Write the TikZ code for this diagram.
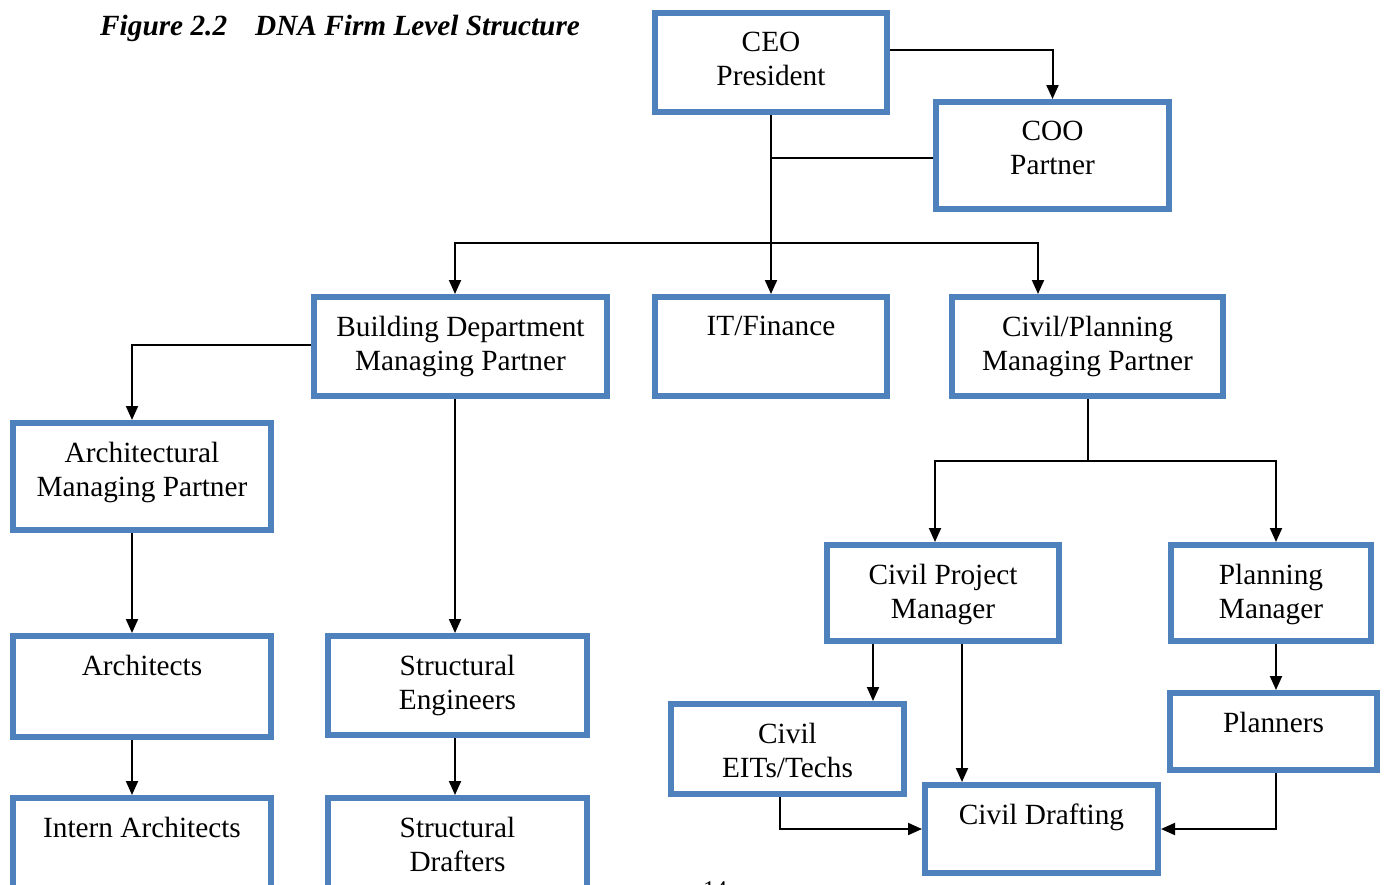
\documentclass[tikz,border=0pt]{standalone}
\usepackage{fontspec}
\setmainfont{Liberation Serif}
\usetikzlibrary{arrows.meta,calc}
\definecolor{boxblue}{HTML}{4F81BD}
\begin{document}
\begin{tikzpicture}[x=1pt,y=-1pt,
  box/.style={draw=boxblue,line width=6pt,rectangle,inner sep=0pt},
  lbl/.style={anchor=north,align=center,inner sep=0pt,font=\fontsize{29.3}{34}\selectfont},
  ln/.style={line width=2pt,black},
  arr/.style={ln,-{Triangle[length=14pt,width=12pt]}}]
\useasboundingbox (0,0) rectangle (1388,884);
% title
\node[anchor=base west,inner sep=0pt,font=\fontsize{29.3}{34}\selectfont\bfseries\itshape] (title) at (100,35) {Figure 2.2\hspace{28pt}DNA Firm Level Structure};
% boxes
\node[box,minimum width=232,minimum height=99] (ceo) at (771,62.5) {};
\node[box,minimum width=233,minimum height=107] (coo) at (1052.5,155.5) {};
\node[box,minimum width=293,minimum height=99] (bld) at (460.5,346.5) {};
\node[box,minimum width=232,minimum height=99] (itf) at (771,346.5) {};
\node[box,minimum width=271,minimum height=99] (civ) at (1087.5,346.5) {};
\node[box,minimum width=258,minimum height=107] (arch) at (142,476.5) {};
\node[box,minimum width=258,minimum height=101] (archs) at (142,686.5) {};
\node[box,minimum width=258,minimum height=104] (intern) at (142,850) {};
\node[box,minimum width=259,minimum height=99] (se) at (457.5,685.5) {};
\node[box,minimum width=259,minimum height=104] (sd) at (457.5,850) {};
\node[box,minimum width=232,minimum height=96] (cpm) at (943,593) {};
\node[box,minimum width=200,minimum height=96] (pm) at (1271,593) {};
\node[box,minimum width=233,minimum height=90] (eit) at (787.5,749) {};
\node[box,minimum width=207,minimum height=77] (pl) at (1273.5,731.5) {};
\node[box,minimum width=233,minimum height=88] (cd) at (1041.5,829) {};
% labels
\node[lbl] (ceoT) at ([yshift=-22pt]ceo.north) {CEO\\President};
\node[lbl] (cooT) at ([yshift=-22pt]coo.north) {COO\\Partner};
\node[lbl] (bldT) at ([yshift=-22pt]bld.north) {Building Department\\Managing Partner};
\node[lbl] (itfT) at ([yshift=-22pt]itf.north) {IT/Finance};
\node[lbl] (civT) at ([yshift=-22pt]civ.north) {Civil/Planning\\Managing Partner};
\node[lbl] (archT) at ([yshift=-22pt]arch.north) {Architectural\\Managing Partner};
\node[lbl] (archsT) at ([yshift=-22pt]archs.north) {Architects};
\node[lbl] (internT) at ([yshift=-22pt]intern.north) {Intern Architects};
\node[lbl] (seT) at ([yshift=-22pt]se.north) {Structural\\Engineers};
\node[lbl] (sdT) at ([yshift=-22pt]sd.north) {Structural\\Drafters};
\node[lbl] (cpmT) at ([yshift=-22pt]cpm.north) {Civil Project\\Manager};
\node[lbl] (pmT) at ([yshift=-22pt]pm.north) {Planning\\Manager};
\node[lbl] (eitT) at ([yshift=-22pt]eit.north) {Civil\\EITs/Techs};
\node[lbl] (plT) at ([yshift=-22pt]pl.north) {Planners};
\node[lbl] (cdT) at ([yshift=-22pt]cd.north) {Civil Drafting};
% page number (cut off at the page edge, as in the reference)
\node[anchor=base,inner sep=0pt,font=\fontsize{24}{28}\selectfont] (pg) at (715,897) {14};
% connectors
\coordinate (jc) at (771,158);
\coordinate (jt) at (771,243);
\coordinate (jp) at (1087.5,461);
\draw[arr] ([yshift=12.5pt]ceo.east) -| (coo.north);
\draw[ln] ([yshift=-2.5pt]coo.west) -- (jc);
\draw[arr] (ceo.south) -- (itf.north);
\draw[arr] (jt) -| ([xshift=-5.5pt]bld.north);
\draw[arr] (jt) -| ([xshift=-49.5pt]civ.north);
\draw[arr] ([yshift=1.5pt]bld.west) -| ([xshift=-10pt]arch.north);
\draw[arr] ([xshift=-5.5pt]bld.south) -- ([xshift=-2.5pt]se.north);
\draw[arr] ([xshift=-10pt]arch.south) -- ([xshift=-10pt]archs.north);
\draw[arr] ([xshift=-10pt]archs.south) -- ([xshift=-10pt]intern.north);
\draw[arr] ([xshift=-2.5pt]se.south) -- ([xshift=-2.5pt]sd.north);
\draw[ln] (civ.south) -- (jp);
\draw[arr] (jp) -| ([xshift=-8pt]cpm.north);
\draw[arr] (jp) -| ([xshift=5pt]pm.north);
\draw[arr] ([xshift=-70pt]cpm.south) -- ([xshift=-70pt]cpm.south |- eit.north);
\draw[arr] ([xshift=19pt]cpm.south) -- ([xshift=19pt]cpm.south |- cd.north);
\draw[arr] ([xshift=-7.5pt]eit.south) |- (cd.west);
\draw[arr] ([xshift=2.5pt]pl.south) |- (cd.east);
\draw[arr] ([xshift=5pt]pm.south) -- ([xshift=5pt]pm.south |- pl.north);
\end{tikzpicture}
\end{document}
